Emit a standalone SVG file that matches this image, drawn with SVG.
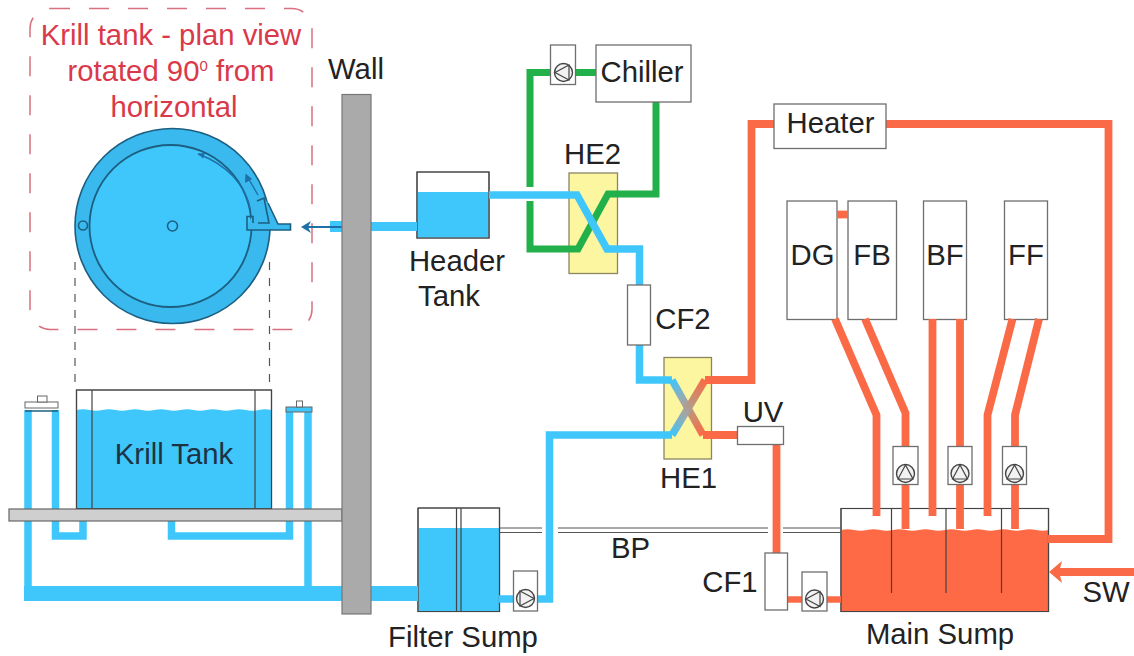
<svg xmlns="http://www.w3.org/2000/svg" width="1134" height="656" viewBox="0 0 1134 656">
<style>
text{font-family:"Liberation Sans",Arial,sans-serif;font-size:29.3px;fill:#222;text-anchor:middle}
.red{fill:#d9394a}
.box{fill:#fff;stroke:#6e6e6e;stroke-width:1.3}
.tank{fill:#fff;stroke:#666;stroke-width:1.2}
.he{fill:#fdf6a0;stroke:#8a8460;stroke-width:1.3}
.div{stroke:#444;stroke-width:1.2;fill:none}
.b,.r,.g{fill:none;stroke-linejoin:miter;stroke-linecap:butt}
.b{stroke:#3fc6fb;stroke-width:7.5}
.r{stroke:#fb6a47;stroke-width:7.800}
.g{stroke:#22b04b;stroke-width:7}
.bw{fill:#3fc6fb}
.rw{fill:#fd6a45}
.thin{stroke:#555;stroke-width:1.200;fill:none}
.plan{stroke:#1d5f80;stroke-width:1.6;fill:none}
.flow{stroke:#1f6fa8;stroke-width:1.4;fill:none}
</style>
<defs>
<g id="pump">
<circle r="9" fill="#e6e6e6" fill-opacity=".5" stroke="#444" stroke-width="1.4"/>
<path d="M-5.5 -7.5L8.5 0L-5.5 7.5Z" fill="none" stroke="#444" stroke-width="1.2"/>
</g>
<linearGradient id="he1a" gradientUnits="userSpaceOnUse" x1="672" y1="380" x2="703" y2="435">
<stop offset="0" stop-color="#3fc6fb"/><stop offset=".35" stop-color="#9aa9ae"/><stop offset=".7" stop-color="#cf8a68"/><stop offset="1" stop-color="#fb6a47"/>
</linearGradient>
<linearGradient id="he1b" gradientUnits="userSpaceOnUse" x1="672" y1="435" x2="705" y2="380">
<stop offset="0" stop-color="#3fc6fb"/><stop offset=".35" stop-color="#9aa9ae"/><stop offset=".7" stop-color="#cf8a68"/><stop offset="1" stop-color="#fb6a47"/>
</linearGradient>
</defs>
<rect width="1134" height="656" fill="#fff"/>

<g id="plan-view">
<rect x="30" y="8.500" width="282" height="321" rx="20" fill="none" stroke="#d8707f" stroke-width="1.5" stroke-dasharray="20 19"/>
<text class="red" x="171" y="45">Krill tank - plan view</text>
<text class="red" x="171" y="81">rotated 90<tspan font-size="15" dy="-10">0</tspan><tspan dy="10"> from</tspan></text>
<text class="red" x="174" y="117">horizontal</text>
<path class="thin" d="M75 262V389M269.500 262V389" stroke-dasharray="8 8"/>
<circle cx="172.500" cy="226" r="97.500" fill="#3ab9ef" stroke="#1d5f80" stroke-width="1.6"/>
<circle cx="170.500" cy="226" r="81" fill="#3fc6fb" stroke="#1d5f80" stroke-width="1.8"/>
<path d="M247 230H290.500V224H278L268 203L262 197L248 224V230Z" fill="#3ab9ef"/>
<path class="plan" d="M268 203L278 224H290.500V230H247V216.500H253V223"/>
<path class="plan" d="M257 201L264 198L269 223H258"/>
<circle class="plan" cx="83" cy="225.500" r="4.500"/>
<circle class="plan" cx="172.500" cy="226" r="5"/>
<path class="flow" d="M250.500 210C246 185 226 164 198 154"/>
<path d="M198 153.500L205 153L203 158.500Z" fill="#1f6fa8"/>
<path class="flow" d="M258 195L247 176"/>
<path d="M245.500 173.500L252 179L245 183Z" fill="#1f6fa8"/>
<rect x="330" y="221" width="12" height="11" fill="#3fc6fb"/>
<path d="M303 227H342M371 227H387" stroke="#1f6fa8" stroke-width="2" fill="none"/>
<path d="M301 227L311 221L308 227L311 233Z" fill="#1f6fa8"/>
</g>

<g id="filter-sump">
<rect class="tank" x="418" y="508" width="81.500" height="103.500"/>
<rect class="bw" x="418.500" y="528" width="80.500" height="83"/>
<path class="div" d="M418 508V611.500H499.500V508H418M456.500 508V611.500M461 508V611.500"/>
<text x="463" y="646.500">Filter Sump</text>
</g>
<g id="main-sump">
<rect class="tank" x="841" y="508.500" width="207.500" height="103"/>
<path class="rw" d="M841 530q6.500 -1.600 13 0t13 0t13 0t13 0t13 0t13 0t13 0t13 0t13 0t13 0t13 0t13 0t13 0t13 0t13 0t13 0V611.500H841Z"/>
<path class="div" d="M841 508.500H1048.500V611.500H841Z M891.500 508.500V593M946 508.500V593M1001.500 508.500V593"/>
<text x="940" y="644">Main Sump</text>
</g>
<g id="krill-tank">
<rect class="tank" x="76.500" y="390" width="195" height="119"/>
<path class="bw" d="M76.500 410q6.500 -1.600 13 0t13 0t13 0t13 0t13 0t13 0t13 0t13 0t13 0t13 0t13 0t13 0t13 0t13 0t13 0V509H76.500Z"/>
<path class="div" d="M76.500 509V390H271.500V509M92 390V509M255 390V509"/>
<path d="M76 509H272" stroke="#1b2a33" stroke-width="1.8"/>
<text x="174" y="464" style="fill:#1d3344">Krill Tank</text>
</g>
<g id="header-tank">
<rect class="tank" x="417" y="172" width="72" height="66"/>
<rect class="bw" x="417.500" y="192" width="71" height="45.500"/>
<path class="div" d="M417 172H489V238H417Z"/>
<text x="457" y="271">Header</text>
<text x="449" y="306">Tank</text>
</g>
<g id="he2"><rect class="he" x="569" y="173" width="48.500" height="100.500"/><text x="592.500" y="164">HE2</text></g>
<g id="he1"><rect class="he" x="664" y="357.500" width="47.500" height="101.500"/><text x="688.500" y="487.500">HE1</text></g>
<g id="dg"><rect class="box" x="787" y="201" width="50" height="118.500"/><text x="812.500" y="265">DG</text></g>
<g id="fb"><rect class="box" x="848" y="201" width="48.500" height="118.500"/><text x="872" y="265">FB</text></g>
<g id="bf"><rect class="box" x="923.500" y="201" width="43" height="118.500"/><text x="945" y="265">BF</text></g>
<g id="ff"><rect class="box" x="1004.500" y="201" width="43" height="118.500"/><text x="1026" y="265">FF</text></g>

<g id="connectors">
<path class="b" d="M28 410V590M55.500 410V536H83V518M171.500 518V536H289.500V409M308 409V590"/>
<path class="b" style="stroke-width:15" d="M24 593.500H418"/>
<path class="b" style="stroke-width:9" d="M371 226.500H417"/>
<path class="b" d="M499 599H549.500V435H672"/>
<path class="thin" d="M500 528H542M500 532.500H542M558 528H768M558 532.500H768M783 528H841M783 532.500H841"/>
<path class="g" d="M596 72.500H530V187M530 201V249H578L608 194H656V102"/>
<path class="b" d="M489 195H577L607 249H639.500V285M639.500 345V380H672"/>
<path d="M672 380L703 435" fill="none" stroke="url(#he1a)" stroke-width="7.500"/>
<path d="M672 435L705 380" fill="none" stroke="url(#he1b)" stroke-width="7.500"/>
<path class="r" d="M703 435H738M776.500 444V553"/>
<path class="r" d="M705 380H751.500V124H774M886 124H1108.500V539H1048"/>
<path class="r" d="M837 214.500H848"/>
<path class="r" d="M835 319L876.500 415V516M865 319L905.500 413V529M932.500 319V516M960 319V529M1012.500 319L987.500 415V516M1039 319L1015 415V529"/>
<path class="r" style="stroke-width:6.500" d="M787 599.500H841"/>
<path class="r" d="M1134 572H1058"/>
<path d="M1049 572L1062 561L1059 572L1062 583Z" fill="#fb6a47"/>
</g>

<g id="shelf"><rect x="9" y="509" width="333" height="12" fill="#cfcfcf" stroke="#666" stroke-width="1.200"/></g>
<g id="left-cap">
<rect x="25" y="402" width="33" height="6" fill="#fff" stroke="#666"/>
<rect x="37.500" y="396" width="9.500" height="6" fill="#fff" stroke="#666"/>
<path d="M25 411H58" stroke="#1d5f80" stroke-width="1.600"/>
</g>
<g id="right-cap">
<rect x="286" y="407" width="26" height="5" fill="#3fc6fb" stroke="#666"/>
<rect x="296.500" y="401" width="6" height="6" fill="#fff" stroke="#666"/>
</g>
<g id="wall"><rect x="342" y="94.500" width="29" height="519.500" fill="#aaa" stroke="#777" stroke-width="1.200"/><text x="356" y="79">Wall</text></g>
<g id="chiller"><rect class="box" x="596" y="45" width="95" height="57"/><text x="642" y="82">Chiller</text></g>
<g id="heater"><rect class="box" x="774" y="104" width="112" height="44.500"/><text x="830.500" y="133">Heater</text></g>
<g id="cf2"><rect class="box" x="627.500" y="285" width="23" height="60"/><text x="683" y="329">CF2</text></g>
<g id="uv"><rect class="box" x="737.500" y="426.500" width="46" height="18"/><text x="763" y="421.500">UV</text></g>
<g id="cf1"><rect class="box" x="765" y="553" width="22.500" height="57"/><text x="730" y="591.500">CF1</text></g>
<g id="pump-chiller"><rect class="box" x="550.500" y="45" width="25" height="39.500"/><use href="#pump" transform="translate(563.500 72.500) rotate(180)"/></g>
<g id="pump-filter"><rect class="box" x="513.500" y="571" width="24" height="40"/><use href="#pump" transform="translate(525.500 598.500)"/></g>
<g id="pump-main"><rect class="box" x="802" y="572" width="25" height="39"/><use href="#pump" transform="translate(814.500 599) rotate(180)"/></g>
<g id="pump-fb"><rect class="box" x="893" y="446.500" width="25" height="38"/><use href="#pump" transform="translate(905.500 473.500) rotate(-90)"/></g>
<g id="pump-bf"><rect class="box" x="948" y="446.500" width="24" height="38"/><use href="#pump" transform="translate(960 473.500) rotate(-90)"/></g>
<g id="pump-ff"><rect class="box" x="1002.500" y="446.500" width="24" height="38"/><use href="#pump" transform="translate(1014.500 473.500) rotate(-90)"/></g>
<g id="labels"><text x="630.500" y="558">BP</text><text x="1106" y="602">SW</text></g>
</svg>
